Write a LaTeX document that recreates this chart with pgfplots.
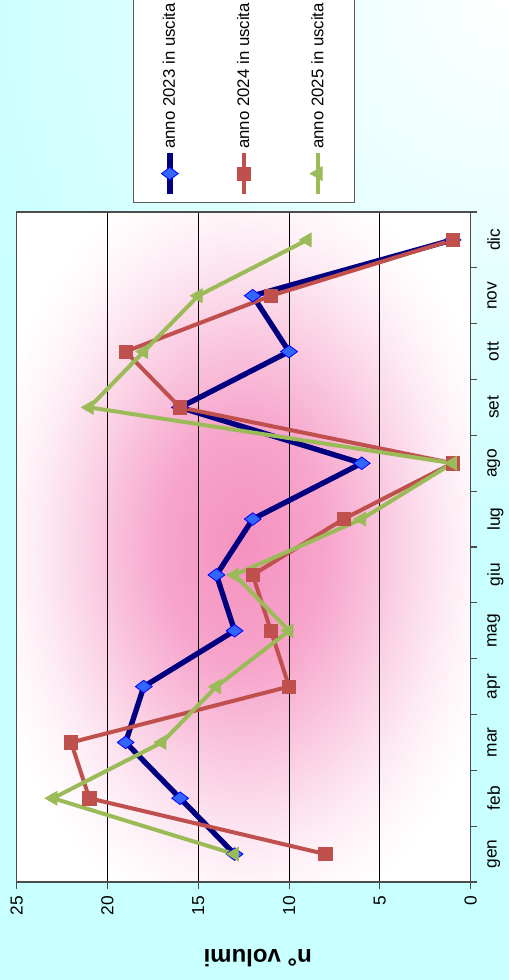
\documentclass[border=0pt]{standalone}
\usepackage{pgfplots}
\pgfplotsset{compat=1.18}
\usepackage{fontspec}
\setmainfont{Liberation Sans}
\definecolor{bgcyan}{RGB}{200,255,255}
\definecolor{navy}{RGB}{0,0,128}
\definecolor{dblue}{RGB}{51,102,255}
\definecolor{xred}{RGB}{192,80,77}
\definecolor{xgreen}{RGB}{155,187,89}
\definecolor{xpink}{RGB}{245,145,192}
\pgfdeclareradialshading{pinkglow}{\pgfpoint{0bp}{0bp}}{color(0bp)=(xpink); color(9bp)=(xpink!82!white); color(14bp)=(xpink!58!white); color(18bp)=(xpink!38!white); color(22bp)=(xpink!20!white); color(25bp)=(xpink!9!white); color(29bp)=(white); color(50bp)=(white)}
\begin{document}
\begin{tikzpicture}[rotate=90,transform shape]
\useasboundingbox (0,0) rectangle (735pt,381.75pt);
\fill[bgcyan] (0,0) rectangle (735pt,381.75pt);
\begin{scope}
\clip (0,0) rectangle (735pt,381.75pt);
\shade[inner color=white, outer color=bgcyan] (735pt,0pt) circle (430pt);
\end{scope}
\begin{axis}[
  at={(73.5pt,28.75pt)}, anchor=south west,
  scale only axis, width=502.5pt, height=340.5pt,
  xmin=0.5, xmax=12.5, ymin=0, ymax=25,
  axis background/.style={shading=pinkglow},
  axis line style={gray!60!black, line width=0.8pt},
  ymajorgrids, grid style={black, line width=0.6pt},
  ytick={0,5,...,25},
  xtick={1,...,12},
  xticklabels={gen,feb,mar,apr,mag,giu,lug,ago,set,ott,nov,dic},
  minor xtick={0.5,1.5,...,12.5},
  tick align=outside, tick pos=left,
  major tick length=5pt, minor tick length=5pt,
  tick style={gray!60!black, line width=0.8pt},
  major x tick style={draw=none},
  tick label style={font=\fontsize{13}{15}\selectfont},
  xticklabel style={yshift=-4pt},
  yticklabel style={xshift=-2pt},
  /pgf/number format/assume math mode=true,
  ylabel={n° volumi},
  every axis y label/.style={at={(rel axis cs:-0.113,0.469)}, rotate=90, anchor=center, font=\bfseries\fontsize{18}{20}\selectfont},
  legend style={at={(1.0134,0.744)}, anchor=north west, draw=gray!70!black, line width=0.8pt, fill=white,
    font=\fontsize{12.6}{15}\selectfont, row sep=41pt, inner ysep=20pt, inner xsep=4pt,
    nodes={inner xsep=1pt}},
  legend cell align=left,
  legend image code/.code={\draw[mark repeat=2,mark phase=2,#1] plot coordinates {(0cm,0cm) (0.55cm,0cm) (1.1cm,0cm)};},
]
\addplot[navy, line width=4pt, mark=diamond*, mark size=6.3pt, mark options={fill=dblue, draw=blue, line width=0.6pt}]
  coordinates {(1,13) (2,16) (3,19) (4,18) (5,13) (6,14) (7,12) (8,6) (9,16) (10,10) (11,12) (12,1)};
\addlegendentry{anno 2023 in uscita}
\addplot[xred, line width=3pt, mark=square*, mark size=5pt, mark options={fill=xred, draw=xred, line width=0.5pt}]
  coordinates {(1,8) (2,21) (3,22) (4,10) (5,11) (6,12) (7,7) (8,1) (9,16) (10,19) (11,11) (12,1)};
\addlegendentry{anno 2024 in uscita}
\addplot[xgreen, line width=3pt, mark=triangle*, mark size=6pt, mark options={fill=xgreen, draw=xgreen, line width=0.5pt}]
  coordinates {(1,13) (2,23) (3,17) (4,14) (5,10) (6,13) (7,6) (8,1) (9,21) (10,18) (11,15) (12,9)};
\addlegendentry{anno 2025 in uscita}
\end{axis}
\end{tikzpicture}
\end{document}
